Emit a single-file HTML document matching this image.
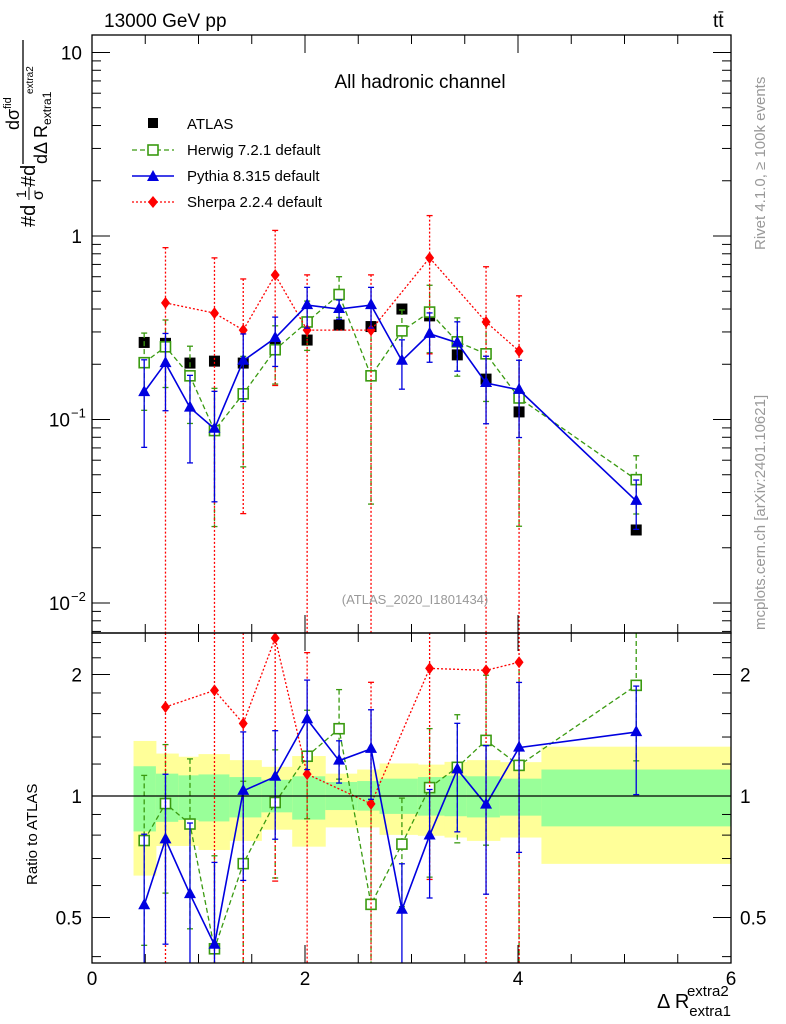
<!DOCTYPE html>
<html><head><meta charset="utf-8">
<style>
html,body{margin:0;padding:0;background:#fff;}
svg{display:block;font-family:"Liberation Sans",sans-serif;}
</style></head>
<body>
<svg id="chart" width="786" height="1024" viewBox="0 0 786 1024" xmlns="http://www.w3.org/2000/svg">
<rect width="786" height="1024" fill="#fff"/>
<g id="bands"></g>
<g id="marks"></g>
<g id="axes"></g>
<text x="104" y="27" font-size="19">13000 GeV pp</text>
<text x="713" y="27" font-size="19">tt̄</text>
<text x="420" y="88" font-size="19" text-anchor="middle">All hadronic channel</text>
<text x="415" y="604" font-size="13" fill="#999" text-anchor="middle">(ATLAS_2020_I1801434)</text>
<text transform="translate(765,250) rotate(-90)" font-size="15" fill="#999">Rivet 4.1.0, ≥ 100k events</text>
<text transform="translate(765,630) rotate(-90)" font-size="15" fill="#999">mcplots.cern.ch [arXiv:2401.10621]</text>
<g>
<text transform="translate(35,227) rotate(-90)" font-size="20">#d</text>
<text transform="translate(26,198) rotate(-90)" font-size="14">1</text>
<line x1="29" y1="200" x2="29" y2="187" stroke="#000" stroke-width="1"/>
<text transform="translate(43,200) rotate(-90)" font-size="16">σ</text>
<text transform="translate(35,187) rotate(-90)" font-size="20">#d</text>
<line x1="23" y1="164" x2="23" y2="40" stroke="#000" stroke-width="1.3"/>
<text transform="translate(19,130) rotate(-90)" font-size="18">dσ<tspan font-size="11" dy="-8">fid</tspan></text>
<text transform="translate(47,164) rotate(-90)" font-size="18">dΔ R<tspan font-size="12" dy="4">extra1</tspan></text>
<text transform="translate(33,94) rotate(-90)" font-size="10">extra2</text>
</g>
<text transform="translate(37,885) rotate(-90)" font-size="15">Ratio to ATLAS</text>
<text x="657" y="1008" font-size="20">Δ R<tspan font-size="15" dy="8">extra1</tspan><tspan font-size="15" dx="-44" dy="-20">extra2</tspan></text>
<g font-size="15">
<rect x="148" y="118" width="10" height="10" fill="#000"/>
<text x="187" y="129">ATLAS</text>
<line x1="132" y1="150" x2="174" y2="150" stroke="#3a9a10" stroke-width="1.3" stroke-dasharray="5,3"/>
<rect x="148" y="145" width="10" height="10" fill="#fff" stroke="#3a9a10" stroke-width="1.6"/>
<text x="187" y="155">Herwig 7.2.1 default</text>
<line x1="132" y1="176" x2="174" y2="176" stroke="#0000e0" stroke-width="1.5"/>
<polygon points="153,170 159,181 147,181" fill="#0000e0"/>
<text x="187" y="181">Pythia 8.315 default</text>
<line x1="132" y1="202" x2="174" y2="202" stroke="#f00" stroke-width="1.3" stroke-dasharray="2,2"/>
<polygon points="153,196 158,202 153,208 148,202" fill="#f00"/>
<text x="187" y="207">Sherpa 2.2.4 default</text>
</g>
</svg>
<script>
const xData=[0.49,0.69,0.92,1.15,1.42,1.72,2.02,2.32,2.62,2.91,3.17,3.43,3.70,4.01,5.11];
const atlasVals=[0.263,0.26,0.203,0.208,0.203,0.249,0.271,0.327,0.321,0.4,0.367,0.225,0.166,0.11,0.025];
const herwigVals=[0.204,0.249,0.173,0.087,0.138,0.24,0.34,0.48,0.173,0.304,0.385,0.265,0.228,0.131,0.047];
const herwigErr=[0.45,0.4,0.45,0.7,0.6,0.35,0.3,0.25,0.8,0.3,0.4,0.35,0.45,0.8,0.35];
const pythiaVals=[0.141,0.203,0.116,0.089,0.209,0.278,0.42,0.40,0.42,0.209,0.293,0.262,0.158,0.145,0.036];
const pythiaErr=[0.5,0.45,0.5,0.6,0.4,0.3,0.25,0.12,0.25,0.3,0.3,0.3,0.4,0.45,0.3];
const sherpaIdx=[1,3,4,5,6,8,10,12,13];
const sherpaVals=[0.432,0.38,0.307,0.613,0.307,0.307,0.76,0.34,0.236];
const sherpaErr=[1,1,0.9,0.75,1,1,0.7,1,1];
const bandEdges=[0.39,0.6,0.81,1.0,1.29,1.59,1.88,2.19,2.49,2.70,3.06,3.31,3.52,3.83,4.22,6.0];
const yellowHi=[1.369,1.274,1.251,1.27,1.227,1.181,1.256,1.136,1.163,1.204,1.196,1.215,1.227,1.213,1.325];
const yellowLo=[0.635,0.752,0.752,0.735,0.774,0.825,0.749,0.836,0.836,0.801,0.797,0.789,0.774,0.789,0.679];
const greenHi=[1.185,1.136,1.125,1.131,1.114,1.097,1.119,1.083,1.089,1.104,1.114,1.123,1.119,1.104,1.163];
const greenLo=[0.817,0.863,0.872,0.865,0.885,0.911,0.874,0.923,0.92,0.903,0.894,0.891,0.885,0.894,0.841];

const NS='http://www.w3.org/2000/svg';
const L=92,R=731,T=35,M=633,B=963;
const X=v=>L+v*(R-L)/6;
const Y=v=>236-183.5*Math.log10(v);
const YR=r=>796-121.5*Math.log2(r);
function mk(tag,at,parent){const e=document.createElementNS(NS,tag);for(const k in at)e.setAttribute(k,at[k]);(parent||document.getElementById('marks')).appendChild(e);return e;}
const clampM=y=>Math.max(T,Math.min(M,y));
const clampR=y=>Math.max(M,Math.min(B,y));

const bg=document.getElementById('bands');
for(let i=0;i<yellowHi.length;i++){
  const x1=X(bandEdges[i]),x2=X(bandEdges[i+1]);
  let e=mk('rect',{x:x1,y:YR(yellowHi[i]),width:x2-x1+0.5,height:YR(yellowLo[i])-YR(yellowHi[i]),fill:'#ffff99'},bg);
  
  
  e=mk('rect',{x:x1,y:YR(greenHi[i]),width:x2-x1+0.5,height:YR(greenLo[i])-YR(greenHi[i]),fill:'#99ff99'},bg);
  
  
}

function series(name,xs,vals,errs,ref,color,dash,width,marker){
  let pts=xs.map((x,i)=>X(x)+','+clampM(Y(vals[i]))).join(' ');
  let pl=mk('polyline',{points:pts,fill:'none',stroke:color,'stroke-width':width,'stroke-dasharray':dash||'none'});
  
  
  let rpts=xs.map((x,i)=>X(x)+','+clampR(YR(vals[i]/ref[i]))).join(' ');
  pl=mk('polyline',{points:rpts,fill:'none',stroke:color,'stroke-width':width,'stroke-dasharray':dash||'none'});
  
  
  xs.forEach((x,i)=>{
    const px=X(x),v=vals[i],e=errs[i];
    const hi=v*(1+e),lo=v*(1-e);
    const ys=[[Y(hi),lo>0?Y(lo):M,Y(v),T,M],[YR(hi/ref[i]),lo>0?YR(lo/ref[i]):B,YR(v/ref[i]),M,B]];
    ys.forEach(([a,b,c,t,bb])=>{
      const ya=Math.max(t,Math.min(bb,a)),yb=Math.max(t,Math.min(bb,b));
      const l=mk('line',{x1:px,x2:px,y1:ya,y2:yb,stroke:color,'stroke-width':1.3,'stroke-dasharray':dash||'none'});
      
      
      [a,b].forEach(yy=>{if(yy>t&&yy<bb){mk('line',{x1:px-3,x2:px+3,y1:yy,y2:yy,stroke:color,'stroke-width':1.3});}});
      if(c<t||c>bb)return;
      let m;
      if(marker==='sq') m=mk('rect',{x:px-5,y:c-5,width:10,height:10,fill:'#fff',stroke:color,'stroke-width':1.6});
      else if(marker==='tri') m=mk('polygon',{points:`${px},${c-7} ${px+6},${c+4} ${px-6},${c+4}`,fill:color});
      else m=mk('polygon',{points:`${px},${c-6} ${px+4.5},${c} ${px},${c+6} ${px-4.5},${c}`,fill:color});
      
      
    });
  });
}
xData.forEach((x,i)=>{
  const m=mk('rect',{x:X(x)-5.5,y:Y(atlasVals[i])-5.5,width:11,height:11,fill:'#000'});
  
  
});
series('herwig',xData,herwigVals,herwigErr,atlasVals,'#3a9a10','5,3',1.3,'sq');
series('sherpa',sherpaIdx.map(i=>xData[i]),sherpaVals,sherpaErr,sherpaIdx.map(i=>atlasVals[i]),'#f00','2,2',1.3,'dia');
series('pythia',xData,pythiaVals,pythiaErr,atlasVals,'#0000e0','',1.6,'tri');

const ax=document.getElementById('axes');
mk('rect',{x:L,y:T,width:R-L,height:M-T,fill:'none',stroke:'#000','stroke-width':1.3},ax);
mk('rect',{x:L,y:M,width:R-L,height:B-M,fill:'none',stroke:'#000','stroke-width':1.3},ax);
mk('line',{x1:L,x2:R,y1:YR(1),y2:YR(1),stroke:'#000','stroke-width':1.2},ax);
for(let v=0;v<=6.001;v+=0.5){
  const px=X(v),len=(Math.abs(v%2)<1e-6)?18:9;
  [[M,-1],[B,-1],[T,1],[M,1]].forEach(([y0,d])=>mk('line',{x1:px,x2:px,y1:y0,y2:y0+d*len,stroke:'#000','stroke-width':1},ax));
}
[0,2,4,6].forEach(v=>{const t=mk('text',{x:X(v),y:985,'font-size':19,'text-anchor':'middle'},ax);t.textContent=v;});
for(let d=-3;d<=1;d++)for(let k=1;k<10;k++){
  const v=k*Math.pow(10,d),y=Y(v);if(y<T||y>M)continue;
  const len=k===1?18:9;
  mk('line',{x1:L,x2:L+len,y1:y,y2:y,stroke:'#000','stroke-width':1},ax);
  mk('line',{x1:R,x2:R-len,y1:y,y2:y,stroke:'#000','stroke-width':1},ax);
}
[['10',10],['1',1]].forEach(([s,v])=>{const t=mk('text',{x:82,y:Y(v)+7,'font-size':19,'text-anchor':'end'},ax);t.textContent=s;});
[['−1',0.1],['−2',0.01]].forEach(([s,v])=>{
  const t=mk('text',{x:70,y:Y(v)+7,'font-size':19,'text-anchor':'end'},ax);t.textContent='10';
  const t2=mk('text',{x:71,y:Y(v)-2,'font-size':13},ax);t2.textContent=s;
});
[0.4,0.5,0.6,0.7,0.8,0.9,1,1.2,1.4,1.6,1.8,2,2.2,2.4].forEach(r=>{
  const y=YR(r);if(y<M||y>B)return;const len=(r===0.5||r===1||r===2)?18:9;
  mk('line',{x1:L,x2:L+len,y1:y,y2:y,stroke:'#000','stroke-width':1},ax);
  mk('line',{x1:R,x2:R-len,y1:y,y2:y,stroke:'#000','stroke-width':1},ax);
});
[['0.5',0.5],['1',1],['2',2]].forEach(([s,r])=>{
  let t=mk('text',{x:82,y:YR(r)+7,'font-size':19,'text-anchor':'end'},ax);t.textContent=s;
  t=mk('text',{x:740,y:YR(r)+7,'font-size':19},ax);t.textContent=s;
});
</script>
</body></html>
